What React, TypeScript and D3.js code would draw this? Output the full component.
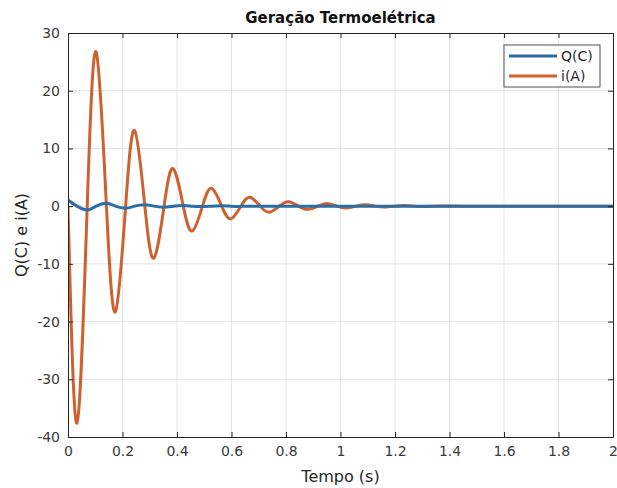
import React, { useRef, useEffect } from 'react';
import * as d3 from 'd3';

// i(A): extremos e cruzamentos por zero
const tempoI = [
  0, 0.033, 0.0705, 0.1035, 0.141, 0.174, 0.2115, 0.2445, 0.282, 0.315,
  0.3525, 0.3855, 0.423, 0.456, 0.4935, 0.5265, 0.564, 0.597, 0.6345, 0.6675,
  0.705, 0.738, 0.7755, 0.8085, 0.846, 0.879, 0.9165, 0.9495, 0.987, 1.02,
  1.0575, 1.0905, 1.128, 1.161, 1.1985, 1.232, 1.269, 1.302, 1.34, 1.45, 1.7, 2,
];
const correnteI = [
  0, -37.6, 0, 26.7, 0, -18.3, 0, 13.1, 0, -9.0,
  0, 6.5, 0, -4.3, 0, 3.1, 0, -2.2, 0, 1.55,
  0, -1.05, 0, 0.75, 0, -0.55, 0, 0.45, 0, -0.32,
  0, 0.22, 0, -0.15, 0, 0.1, 0, -0.07, 0, 0, 0, 0,
];

// Q(C)
const tempoQ = [
  0, 0.033, 0.0705, 0.1035, 0.141, 0.174, 0.2115, 0.2445, 0.282, 0.315,
  0.3525, 0.3855, 0.423, 0.456, 0.4935, 0.5265, 0.564, 0.597, 0.6345, 0.7,
  0.8, 1, 1.5, 2,
];
const cargaQ = [
  1.05, 0, -0.65, 0, 0.5, 0, -0.35, 0, 0.25, 0,
  -0.17, 0, 0.12, 0, -0.08, 0, 0.06, 0, -0.04, 0,
  0, 0, 0, 0,
];

const xTicks = [0, 0.2, 0.4, 0.6, 0.8, 1, 1.2, 1.4, 1.6, 1.8, 2];
const yTicks = [-40, -30, -20, -10, 0, 10, 20, 30];
const legendLabels = ['Q(C)', 'i(A)'];
const colors = ['#2b6ea6', '#cf602f'];

const App = () => {
  const ref = useRef<SVGSVGElement>(null);

  useEffect(() => {
    const svg = d3.select(ref.current);
    svg.selectAll('*').remove();

    const width = 617;
    const height = 488;
    const margin = { top: 33, right: 4, bottom: 51, left: 68 };
    const font = 'DejaVu Sans';

    const x = d3.scaleLinear().domain([0, 2]).range([margin.left, width - margin.right]);
    const y = d3.scaleLinear().domain([-40, 30]).range([height - margin.bottom, margin.top]);

    svg.append('rect').attr('width', width).attr('height', height).attr('fill', '#fff');

    // grade
    const grid = svg.append('g').attr('stroke', '#e3e3e3').attr('stroke-width', 1);
    grid.selectAll('line.v')
      .data(xTicks.slice(1, -1))
      .enter().append('line')
      .attr('x1', d => x(d)).attr('x2', d => x(d))
      .attr('y1', y(30)).attr('y2', y(-40));
    grid.selectAll('line.h')
      .data(yTicks.slice(1, -1))
      .enter().append('line')
      .attr('x1', x(0)).attr('x2', x(2))
      .attr('y1', d => y(d)).attr('y2', d => y(d));

    svg.append('clipPath').attr('id', 'area')
      .append('rect')
      .attr('x', x(0)).attr('y', y(30))
      .attr('width', x(2) - x(0)).attr('height', y(-40) - y(30));

    const line = d3.line<[number, number]>()
      .x(d => x(d[0]))
      .y(d => y(d[1]))
      .curve(d3.curveNatural);

    const dataQ = tempoQ.map((t, k) => [t, cargaQ[k]] as [number, number]);
    const dataI = tempoI.map((t, k) => [t, correnteI[k]] as [number, number]);

    const plot = svg.append('g').attr('clip-path', 'url(#area)');
    plot.append('path').datum(dataI)
      .attr('d', line).attr('fill', 'none')
      .attr('stroke', colors[1]).attr('stroke-width', 3).attr('stroke-linejoin', 'round');
    plot.append('path').datum(dataQ)
      .attr('d', line).attr('fill', 'none')
      .attr('stroke', colors[0]).attr('stroke-width', 3).attr('stroke-linejoin', 'round');

    // eixos
    const styleAxis = (g: any) => {
      g.attr('font-family', font).attr('font-size', 14);
      g.select('.domain').attr('stroke', '#262626');
      g.selectAll('.tick line').attr('stroke', '#262626');
      g.selectAll('.tick text').attr('fill', '#3a3a3a');
    };
    const fmt = (d: any) => String(d);

    svg.append('g')
      .attr('transform', `translate(0,${y(-40)})`)
      .call(d3.axisBottom(x).tickValues(xTicks).tickFormat(fmt).tickSize(-5).tickSizeOuter(0).tickPadding(9))
      .call(styleAxis);
    svg.append('g')
      .attr('transform', `translate(0,${y(30)})`)
      .call(d3.axisTop(x).tickValues(xTicks).tickFormat(() => '').tickSize(-5).tickSizeOuter(0))
      .call(styleAxis);
    svg.append('g')
      .attr('transform', `translate(${x(0)},0)`)
      .call(d3.axisLeft(y).tickValues(yTicks).tickFormat(fmt).tickSize(-5).tickSizeOuter(0).tickPadding(8))
      .call(styleAxis);
    svg.append('g')
      .attr('transform', `translate(${x(2)},0)`)
      .call(d3.axisRight(y).tickValues(yTicks).tickFormat(() => '').tickSize(-5).tickSizeOuter(0))
      .call(styleAxis);

    // título e rótulos
    svg.append('text')
      .attr('x', (x(0) + x(2)) / 2).attr('y', 23)
      .attr('text-anchor', 'middle')
      .attr('font-family', font).attr('font-size', 15).attr('font-weight', 'bold')
      .attr('fill', '#111')
      .text('Geração Termoelétrica');
    svg.append('text')
      .attr('x', (x(0) + x(2)) / 2).attr('y', 482)
      .attr('text-anchor', 'middle')
      .attr('font-family', font).attr('font-size', 16)
      .attr('fill', '#262626')
      .text('Tempo (s)');
    svg.append('text')
      .attr('transform', `translate(27,${(y(30) + y(-40)) / 2}) rotate(-90)`)
      .attr('text-anchor', 'middle')
      .attr('font-family', font).attr('font-size', 16)
      .attr('fill', '#262626')
      .text('Q(C) e i(A)');

    // legenda
    const lg = svg.append('g');
    lg.append('rect')
      .attr('x', 504).attr('y', 45).attr('width', 96).attr('height', 42)
      .attr('fill', '#fff').attr('stroke', '#262626').attr('stroke-width', 0.8);
    legendLabels.forEach((name, k) => {
      const ly = 56 + k * 20;
      lg.append('line')
        .attr('x1', 509).attr('x2', 557).attr('y1', ly).attr('y2', ly)
        .attr('stroke', colors[k]).attr('stroke-width', 3);
      lg.append('text')
        .attr('x', 561).attr('y', ly).attr('dy', '0.35em')
        .attr('font-family', font).attr('font-size', 14).attr('fill', '#262626')
        .text(name);
    });
  }, []);

  return (
    <div style={{ position: 'absolute', left: 0, top: 0 }}>
      <svg ref={ref} width={617} height={488}></svg>
    </div>
  );
};

export default App;
